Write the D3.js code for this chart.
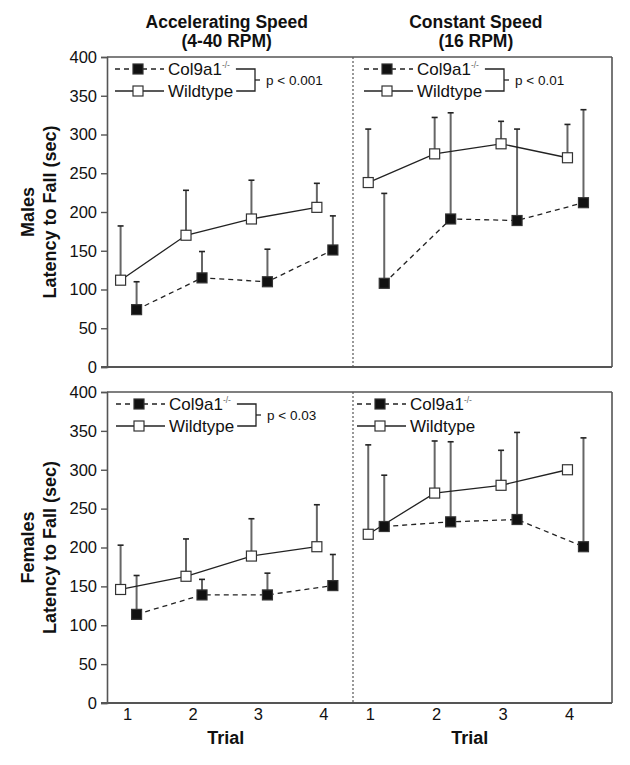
<!DOCTYPE html>
<meta charset="utf-8">
<script src="https://d3js.org/d3.v7.min.js"></script>
<style>
  body { margin: 0; background: #fff; }
  text { font-family: "Liberation Sans", Arial, sans-serif; fill: #111; }
</style>
<div id="my_dataviz"></div>
<script>

// data (latency to fall, sec; error bars one-sided, upward)
var trials = [1, 2, 3, 4];
var yTicks = [0, 50, 100, 150, 200, 250, 300, 350, 400];

var maleAccelKO     = [74, 115, 110, 151];
var maleAccelKOErr  = [36, 34, 42, 44];
var maleAccelWT     = [112, 170, 191, 206];
var maleAccelWTErr  = [70, 58, 50, 31];

var maleConstKO     = [108, 191, 189, 212];
var maleConstKOErr  = [116, 137, 118, 120];
var maleConstWT     = [238, 275, 288, 270];
var maleConstWTErr  = [69, 47, 29, 43];

var femAccelKO      = [114, 139, 139, 151];
var femAccelKOErr   = [50, 20, 28, 40];
var femAccelWT      = [146, 163, 189, 201];
var femAccelWTErr   = [57, 48, 48, 54];

var femConstKO      = [227, 233, 236, 201];
var femConstKOErr   = [66, 103, 112, 140];
var femConstWT      = [217, 270, 280, 300];
var femConstWTErr   = [115, 67, 45, 0];

var colTitles = [["Accelerating Speed", "(4-40 RPM)"], ["Constant Speed", "(16 RPM)"]];
var rowTitles = ["Males", "Females"];
var pValues = ["p < 0.001", "p < 0.01", "p < 0.03", ""];

// layout
var width = 630, height = 765;
var rows = [{top: 57, bottom: 367}, {top: 392, bottom: 703}];
var cols = [{left: 107, right: 353, dom: [0.67, 4.43], lab: -1},
            {left: 353, right: 612, dom: [0.65, 4.55], lab: -6}];
var frameColor = "#555";

var svg = d3.select("#my_dataviz")
  .append("svg")
    .attr("width", width)
    .attr("height", height);

var panels = [
  {r: 0, c: 0, leg: 8,  ko: maleAccelKO, koErr: maleAccelKOErr, wt: maleAccelWT, wtErr: maleAccelWTErr, p: pValues[0]},
  {r: 0, c: 1, leg: 11, ko: maleConstKO, koErr: maleConstKOErr, wt: maleConstWT, wtErr: maleConstWTErr, p: pValues[1]},
  {r: 1, c: 0, leg: 9,  ko: femAccelKO, koErr: femAccelKOErr, wt: femAccelWT, wtErr: femAccelWTErr, p: pValues[2]},
  {r: 1, c: 1, leg: 4,  ko: femConstKO, koErr: femConstKOErr, wt: femConstWT, wtErr: femConstWTErr, p: pValues[3]}
];

// frames for each row
rows.forEach(function(row, ri) {
  var y = d3.scaleLinear().domain([0, 400]).range([row.bottom, row.top]);

  // left axis with ticks
  svg.append("g")
    .attr("transform", "translate(" + cols[0].left + ",0)")
    .call(d3.axisLeft(y).tickValues(yTicks).tickSize(6).tickPadding(4))
    .call(function(g) {
      g.select(".domain").attr("stroke", frameColor).attr("stroke-width", 1.6);
      g.selectAll(".tick line").attr("stroke", frameColor).attr("stroke-width", 1.4);
      g.selectAll(".tick text").attr("font-size", 16.5).attr("font-family", "Liberation Sans, Arial, sans-serif").attr("fill", "#111");
    });

  // top, bottom, right borders
  svg.append("line")
    .attr("x1", cols[0].left).attr("x2", cols[1].right)
    .attr("y1", row.top).attr("y2", row.top)
    .attr("stroke", frameColor).attr("stroke-width", 1.6);
  svg.append("line")
    .attr("x1", cols[0].left - 6).attr("x2", cols[1].right)
    .attr("y1", row.bottom).attr("y2", row.bottom)
    .attr("stroke", frameColor).attr("stroke-width", 1.8);
  svg.append("line")
    .attr("x1", cols[1].right).attr("x2", cols[1].right)
    .attr("y1", row.top).attr("y2", row.bottom)
    .attr("stroke", frameColor).attr("stroke-width", 1.6);
  // dotted divider
  svg.append("line")
    .attr("x1", cols[1].left).attr("x2", cols[1].left)
    .attr("y1", row.top).attr("y2", row.bottom)
    .attr("stroke", "#555").attr("stroke-width", 1.2)
    .attr("stroke-dasharray", "2,2");

  // row titles
  var midY = (row.top + row.bottom) / 2;
  var lab = svg.append("g").attr("font-weight", "bold").attr("font-size", 18).attr("text-anchor", "middle");
  lab.append("text")
    .attr("transform", "translate(34," + midY + ") rotate(-90)")
    .text(rowTitles[ri]);
  lab.append("text")
    .attr("transform", "translate(56," + midY + ") rotate(-90)")
    .text("Latency to Fall (sec)");
});

// column titles, x tick labels, "Trial"
cols.forEach(function(col, ci) {
  var x = d3.scaleLinear().domain(col.dom).range([col.left, col.right]);
  var cx = x(2.5);
  var t = svg.append("g").attr("font-weight", "bold").attr("font-size", 17.5).attr("text-anchor", "middle");
  t.append("text").attr("x", cx).attr("y", 28).text(colTitles[ci][0]);
  t.append("text").attr("x", cx).attr("y", 47).text(colTitles[ci][1]);

  svg.append("g").selectAll("text")
    .data(trials)
    .enter()
    .append("text")
      .attr("x", function(d) { return x(d) + col.lab; })
      .attr("y", 720)
      .attr("text-anchor", "middle")
      .attr("font-size", 16.5)
      .text(function(d) { return d; });

  svg.append("text")
    .attr("x", cx + col.lab)
    .attr("y", 744)
    .attr("text-anchor", "middle")
    .attr("font-weight", "bold")
    .attr("font-size", 18)
    .text("Trial");
});

// series inside each panel
var off = 8, sq = 10;
panels.forEach(function(p) {
  var row = rows[p.r], col = cols[p.c];
  var x = d3.scaleLinear().domain(col.dom).range([col.left, col.right]);
  var y = d3.scaleLinear().domain([0, 400]).range([row.bottom, row.top]);
  var g = svg.append("g");

  var series = [
    {vals: p.wt, err: p.wtErr, dx: -off, fill: "#fff", dash: null},
    {vals: p.ko, err: p.koErr, dx: off, fill: "#111", dash: "5,4"}
  ];

  // error bars first
  series.forEach(function(s) {
    var eb = g.append("g").selectAll("g")
      .data(trials.map(function(t, i) { return {t: t, v: s.vals[i], e: s.err[i]}; }).filter(function(d) { return d.e > 0; }))
      .enter().append("g");
    eb.append("line")
      .attr("x1", function(d) { return x(d.t) + s.dx; })
      .attr("x2", function(d) { return x(d.t) + s.dx; })
      .attr("y1", function(d) { return y(d.v); })
      .attr("y2", function(d) { return y(d.v + d.e); })
      .attr("stroke", "#666").attr("stroke-width", 2);
    eb.append("line")
      .attr("x1", function(d) { return x(d.t) + s.dx - 3; })
      .attr("x2", function(d) { return x(d.t) + s.dx + 3; })
      .attr("y1", function(d) { return y(d.v + d.e); })
      .attr("y2", function(d) { return y(d.v + d.e); })
      .attr("stroke", "#222").attr("stroke-width", 1.6);
  });

  // connecting lines
  series.forEach(function(s) {
    var line = d3.line()
      .x(function(d, i) { return x(trials[i]) + s.dx; })
      .y(function(d) { return y(d); });
    g.append("path")
      .datum(s.vals)
      .attr("d", line)
      .attr("fill", "none")
      .attr("stroke", "#222")
      .attr("stroke-width", 1.3)
      .attr("stroke-dasharray", s.dash);
  });

  // markers
  series.forEach(function(s) {
    g.append("g").selectAll("rect")
      .data(s.vals)
      .enter()
      .append("rect")
        .attr("x", function(d, i) { return x(trials[i]) + s.dx - sq / 2; })
        .attr("y", function(d) { return y(d) - sq / 2; })
        .attr("width", sq).attr("height", sq)
        .attr("fill", s.fill)
        .attr("stroke", "#333").attr("stroke-width", 1.2);
  });

  // legend
  var lx = col.left + p.leg, ly1 = row.top + 12, ly2 = row.top + 34;
  var leg = g.append("g");
  [{y: ly1, fill: "#111", dash: "5,4", name: "Col9a1"}, {y: ly2, fill: "#fff", dash: null, name: "Wildtype"}].forEach(function(it) {
    leg.append("line")
      .attr("x1", lx).attr("x2", lx + 49)
      .attr("y1", it.y).attr("y2", it.y)
      .attr("stroke", "#222").attr("stroke-width", 1.3)
      .attr("stroke-dasharray", it.dash);
    leg.append("rect")
      .attr("x", lx + 23 - sq / 2).attr("y", it.y - sq / 2)
      .attr("width", sq).attr("height", sq)
      .attr("fill", it.fill).attr("stroke", "#333").attr("stroke-width", 1.2);
  });
  var t1 = leg.append("text").attr("x", lx + 53).attr("y", ly1 + 6).attr("font-size", 17);
  t1.append("tspan").text("Col9a1");
  t1.append("tspan").attr("dy", -7).attr("font-size", 8.5).attr("fill", "#666").text("-/-");
  var t2 = leg.append("text").attr("x", lx + 53).attr("y", ly2 + 6).attr("font-size", 17).text("Wildtype");

  if (p.p) {
    var bx = lx + 53 + 87;
    var e1 = lx + 53 + t1.node().getComputedTextLength() + 6;
    var e2 = lx + 53 + t2.node().getComputedTextLength() + 3;
    var bk = leg.append("g").attr("stroke", "#222").attr("stroke-width", 1.3).attr("fill", "none");
    bk.append("path").attr("d", "M" + e1 + "," + ly1 + "H" + bx + "V" + ly2 + "H" + e2);
    bk.append("line").attr("x1", bx).attr("x2", bx + 5).attr("y1", (ly1 + ly2) / 2).attr("y2", (ly1 + ly2) / 2);
    leg.append("text")
      .attr("x", bx + 11).attr("y", (ly1 + ly2) / 2 + 5)
      .attr("font-size", 13.5)
      .text(p.p);
  }
});

</script>
